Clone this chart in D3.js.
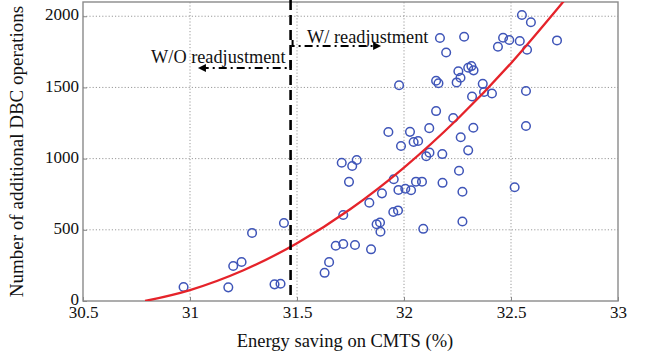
<!DOCTYPE html>
<html>
<head>
<meta charset="utf-8">
<script src="https://cdn.jsdelivr.net/npm/d3@7"></script>
<style>
  body { margin: 0; background: #fff; }
  svg text { font-family: "Liberation Serif", "Times New Roman", "DejaVu Serif", serif; fill: #111; }
</style>
</head>
<body>
<svg id="chart" width="645" height="356"></svg>
<script>
// Axis ticks
const xTicks = [30.5, 31, 31.5, 32, 32.5, 33];
const yTicks = [0, 500, 1000, 1500, 2000];

// Observations: energy saving (%) and number of additional DBC operations
const savingPct = [
  30.970, 31.179, 31.202, 31.241, 31.290, 31.395, 31.423, 31.439, 31.629, 31.650,
  31.681, 31.716, 31.771, 31.716, 31.846, 31.709, 31.779, 31.758, 31.743, 31.838,
  31.897, 31.952, 31.974, 32.006, 32.033, 32.056, 32.084, 32.180, 31.950, 31.972,
  31.872, 31.888, 31.890, 32.090, 32.257, 32.273, 32.273, 32.517, 32.104, 32.119,
  32.179, 32.300, 31.986, 32.045, 32.066, 32.265, 31.927, 32.028, 32.118, 32.324,
  32.230, 32.150, 32.570, 32.318, 32.374, 32.411, 32.570, 32.368, 31.977, 32.150,
  32.161, 32.246, 32.264, 32.254, 32.300, 32.315, 32.325, 32.439, 32.463, 32.492,
  32.541, 32.575, 32.551, 32.593, 32.715, 32.168, 32.281, 32.197
];
const dbcOps = [
   98,   96,  246,  274,  478,  117,  121,  548,  198,  273,
  388,  400,  393,  604,  363,  971,  990,  948,  837,  690,
  756,  855,  780,  788,  778,  838,  838,  830,  625,  636,
  539,  551,  486,  507,  915,  767,  558,  799, 1017, 1042,
 1032, 1058, 1089, 1117, 1124, 1150, 1187, 1188, 1214, 1217,
 1285, 1334, 1229, 1436, 1468, 1457, 1475, 1525, 1515, 1547,
 1529, 1535, 1568, 1614, 1638, 1650, 1620, 1786, 1849, 1833,
 1826, 1765, 2009, 1958, 1830, 1847, 1856, 1745
];

// Fitted trend curve
const fitX = [30.79, 31.0, 31.25, 31.5, 31.75, 32.0, 32.25, 32.5, 32.75];
const fitY = [0, 77, 216, 406, 646, 937, 1278, 1670, 2112];

// Readjustment threshold
const thresholdX = 31.47;

const FONT = '"Liberation Serif", "Times New Roman", serif';
const svg = d3.select("#chart");
const W = 645, H = 356;
const margin = { left: 83, right: 27, top: 2, bottom: 55 };

const x = d3.scaleLinear().domain([30.5, 33]).range([margin.left, W - margin.right]);
const y = d3.scaleLinear().domain([0, 2100]).range([H - margin.bottom, margin.top]);

svg.append("rect").attr("width", W).attr("height", H).attr("fill", "#fff");

svg.append("clipPath").attr("id", "plot-clip")
  .append("rect")
  .attr("x", x.range()[0]).attr("y", y.range()[1])
  .attr("width", x.range()[1] - x.range()[0])
  .attr("height", y.range()[0] - y.range()[1]);

// Dotted grid
const grid = svg.append("g").attr("stroke", "#9a9a9a").attr("stroke-width", 1)
  .attr("stroke-dasharray", "1.2,2");
grid.selectAll(".gx").data(xTicks.slice(1, -1)).join("line")
  .attr("x1", d => x(d)).attr("x2", d => x(d))
  .attr("y1", y.range()[0]).attr("y2", y.range()[1]);
grid.selectAll(".gy").data(yTicks.slice(1)).join("line")
  .attr("y1", d => y(d)).attr("y2", d => y(d))
  .attr("x1", x.range()[0]).attr("x2", x.range()[1]);

// Axes
const xAxis = d3.axisBottom(x).tickValues(xTicks).tickSize(-4).tickPadding(5)
  .tickFormat(d3.format(""));
const yAxis = d3.axisLeft(y).tickValues(yTicks).tickSize(-4).tickPadding(4)
  .tickFormat(d3.format("d"));

const gx = svg.append("g").attr("transform", `translate(0,${y.range()[0]})`).call(xAxis);
const gy = svg.append("g").attr("transform", `translate(${x.range()[0]},0)`).call(yAxis);
[gx, gy].forEach(g => {
  g.attr("font-family", FONT).attr("font-size", 17);
  g.select(".domain").remove();
  g.selectAll(".tick line").attr("stroke", "#888");
  g.selectAll(".tick text").attr("fill", "#111");
});
gy.selectAll(".tick text").attr("dy", "0.22em");
gx.selectAll(".tick text").attr("dy", "0.68em");

// Frame
svg.append("rect")
  .attr("x", x.range()[0]).attr("y", y.range()[1])
  .attr("width", x.range()[1] - x.range()[0])
  .attr("height", y.range()[0] - y.range()[1])
  .attr("fill", "none").attr("stroke", "#8a8a8a").attr("stroke-width", 1.4);

// Scatter points
const pts = savingPct.map((v, i) => ({ x: v, y: dbcOps[i] }));
svg.append("g").selectAll("circle").data(pts).join("circle")
  .attr("cx", d => x(d.x)).attr("cy", d => y(d.y)).attr("r", 4.3)
  .attr("fill", "none").attr("stroke", "#3f55b8").attr("stroke-width", 1.5);

// Trend curve
const fit = fitX.map((v, i) => [v, fitY[i]]);
svg.append("path").datum(fit)
  .attr("clip-path", "url(#plot-clip)")
  .attr("d", d3.line().x(d => x(d[0])).y(d => y(d[1])).curve(d3.curveNatural))
  .attr("fill", "none").attr("stroke", "#e5232a").attr("stroke-width", 2.3);

// Threshold line
svg.append("line")
  .attr("x1", x(thresholdX)).attr("x2", x(thresholdX))
  .attr("y1", 0).attr("y2", y(0) - 4)
  .attr("stroke", "#000").attr("stroke-width", 2.6).attr("stroke-dasharray", "10,5");

// Annotations
const tx = x(thresholdX);
const arrows = svg.append("g").attr("fill", "none").attr("stroke", "#000")
  .attr("stroke-width", 2).attr("stroke-dasharray", "8,4,2,4");

// W/O readjustment (points left)
arrows.append("path").attr("d", `M${tx},${y(1693)} V${y(1636)} H${x(31.06)}`);
svg.append("path")
  .attr("d", `M${x(31.037)},${y(1636)} l8,-4 l0,8 Z`).attr("fill", "#000");
svg.append("text").attr("x", tx - 5).attr("y", y(1672)).attr("text-anchor", "end")
  .attr("font-family", FONT).attr("font-size", 18.3).text("W/O readjustment");

// W/ readjustment (points right)
arrows.append("path").attr("d", `M${tx + 2},${y(1833)} V${y(1791)} H${x(31.87)}`);
svg.append("path")
  .attr("d", `M${x(31.893)},${y(1791)} l-8,-4 l0,8 Z`).attr("fill", "#000");
svg.append("text").attr("x", x(31.547)).attr("y", y(1812))
  .attr("font-family", FONT).attr("font-size", 18.3).text("W/ readjustment");

// Axis titles
svg.append("text").attr("x", 345).attr("y", 347)
  .attr("text-anchor", "middle").attr("font-family", FONT).attr("font-size", 18.5)
  .text("Energy saving on CMTS (%)");
svg.append("text")
  .attr("transform", `translate(23,${(y.range()[0] + y.range()[1]) / 2}) rotate(-90)`)
  .attr("text-anchor", "middle").attr("font-family", FONT).attr("font-size", 19)
  .text("Number of additional DBC operations");
</script>
</body>
</html>
